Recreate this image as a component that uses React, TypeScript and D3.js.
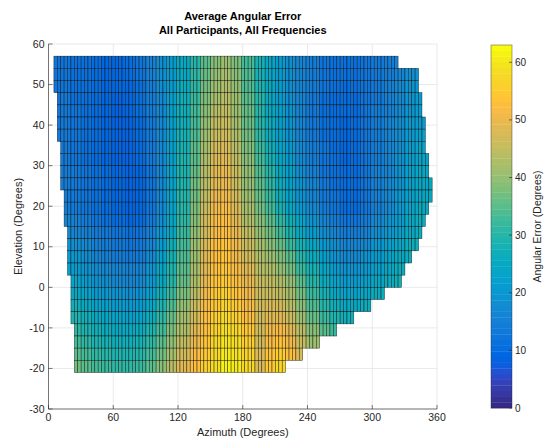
import * as d3 from 'd3';

const WIDTH = 548,
  HEIGHT = 442;
// axes box in px
const PLOT = { left: 48.5, right: 437, top: 44, bottom: 409 };
const CBAR = { left: 491, right: 512, top: 45, bottom: 408 };
const FONT = '"Liberation Sans", Arial, Helvetica, sans-serif';

const AZ_TICKS = [0, 60, 120, 180, 240, 300, 360];
const EL_TICKS = [-30, -20, -10, 0, 10, 20, 30, 40, 50, 60];
const CBAR_TICKS = [0, 10, 20, 30, 40, 50, 60];
const CBAR_MAX = 63;

// grid of the measurement bins
const AZ_START = 5;
const AZ_STEP = 360 / 114;
const EL_TOP = 57;
const EL_STEP = 3;

// first / last (exclusive) azimuth bin of each elevation row, top row first
const rowStartCol = [0, 0, 0, 1, 1, 1, 1, 2, 2, 2, 2, 3, 3, 3, 4, 4, 4, 4, 5, 5, 5, 5, 6, 6, 6, 6];
const rowEndCol = [101, 107, 107, 108, 108, 109, 109, 109, 110, 110, 111, 111, 110, 109, 108, 107, 105, 103, 102, 97, 93, 88, 83, 78, 73, 68];

// mean angular error per row, read in 10 degree azimuth blocks (0-10, 10-20, ...)
const errorByRow = [
  [12, 12, 11, 11, 10, 9, 9, 10, 12, 15, 18, 21, 25, 30, 35, 39, 41, 38, 33, 28, 24, 21, 18, 16, 14, 12, 11, 11, 11, 12, 13, 14, 16],
  [12, 12, 11, 11, 10, 9, 9, 10, 12, 15, 18, 21, 25, 31, 36, 40, 42, 39, 34, 28, 24, 21, 18, 16, 14, 12, 11, 11, 11, 12, 13, 14, 16, 18, 19],
  [12, 12, 11, 11, 10, 9, 9, 9, 11, 14, 18, 21, 26, 31, 37, 41, 43, 40, 34, 29, 25, 21, 18, 16, 14, 12, 11, 10, 11, 12, 13, 15, 17, 19, 20],
  [12, 13, 11, 11, 10, 9, 8, 9, 11, 14, 17, 22, 27, 32, 38, 42, 44, 41, 35, 30, 25, 21, 18, 16, 13, 11, 10, 10, 10, 12, 13, 15, 17, 19, 21],
  [13, 13, 12, 11, 10, 9, 8, 9, 11, 14, 17, 22, 27, 33, 39, 44, 45, 41, 36, 30, 25, 22, 19, 16, 13, 11, 10, 10, 10, 12, 14, 15, 17, 19, 21],
  [13, 13, 12, 11, 10, 9, 8, 8, 10, 13, 17, 22, 27, 33, 40, 45, 46, 42, 36, 30, 26, 22, 19, 16, 13, 11, 10, 9, 10, 12, 14, 16, 18, 20, 21],
  [13, 13, 12, 11, 10, 9, 8, 8, 10, 13, 17, 22, 28, 34, 41, 46, 47, 43, 37, 31, 26, 22, 19, 16, 13, 11, 10, 9, 10, 12, 14, 16, 18, 20, 22],
  [13, 13, 12, 11, 10, 9, 8, 8, 10, 13, 17, 22, 28, 35, 42, 47, 48, 44, 38, 32, 27, 23, 20, 17, 14, 12, 10, 9, 10, 12, 14, 16, 18, 21, 23],
  [14, 13, 12, 11, 10, 9, 8, 8, 10, 13, 17, 22, 29, 35, 43, 48, 49, 45, 39, 33, 28, 24, 21, 17, 14, 12, 11, 9, 10, 12, 14, 16, 19, 21, 23, 24],
  [14, 14, 13, 12, 11, 10, 9, 8, 9, 12, 17, 23, 29, 36, 44, 49, 50, 46, 40, 34, 30, 25, 22, 18, 15, 12, 11, 10, 10, 12, 15, 16, 19, 22, 24, 24],
  [14, 14, 13, 12, 11, 10, 9, 8, 9, 12, 17, 23, 29, 37, 44, 49, 50, 46, 40, 35, 31, 26, 22, 19, 16, 13, 11, 10, 10, 12, 15, 17, 19, 22, 24, 25],
  [15, 14, 13, 12, 11, 10, 9, 8, 9, 12, 17, 23, 30, 37, 45, 50, 51, 47, 41, 36, 32, 27, 23, 19, 16, 13, 12, 10, 10, 12, 15, 17, 20, 22, 24, 25],
  [15, 14, 13, 12, 11, 10, 9, 8, 9, 12, 17, 23, 30, 38, 46, 51, 52, 48, 42, 37, 33, 28, 24, 20, 17, 14, 12, 10, 10, 12, 15, 17, 20, 23, 25, 26],
  [17, 16, 15, 14, 12, 11, 10, 9, 10, 13, 18, 24, 31, 39, 47, 52, 53, 49, 43, 39, 35, 31, 27, 23, 19, 16, 14, 12, 12, 14, 17, 19, 21, 24, 26],
  [18, 17, 16, 15, 14, 13, 12, 11, 12, 15, 20, 25, 32, 40, 47, 52, 53, 50, 45, 40, 37, 33, 29, 25, 21, 18, 16, 14, 14, 15, 18, 20, 22, 25, 26],
  [20, 19, 18, 17, 15, 14, 13, 12, 13, 16, 21, 27, 33, 41, 48, 53, 54, 51, 46, 42, 39, 36, 32, 28, 24, 20, 18, 16, 16, 17, 20, 22, 24, 26, 27],
  [22, 21, 20, 18, 16, 15, 14, 13, 14, 17, 22, 28, 34, 41, 49, 53, 54, 51, 47, 43, 41, 38, 35, 30, 26, 22, 19, 17, 17, 19, 21, 23, 25, 26],
  [23, 22, 21, 19, 18, 17, 16, 15, 16, 19, 24, 29, 35, 42, 49, 53, 54, 52, 49, 44, 43, 40, 37, 32, 28, 24, 21, 19, 19, 20, 22, 24, 26],
  [25, 24, 23, 21, 19, 18, 17, 16, 17, 20, 25, 30, 36, 43, 50, 54, 55, 53, 50, 46, 45, 43, 40, 35, 30, 26, 23, 21, 21, 22, 24, 26, 27],
  [27, 26, 25, 23, 21, 20, 19, 18, 19, 22, 27, 32, 38, 44, 51, 55, 56, 54, 51, 46, 46, 45, 42, 37, 32, 28, 25, 23, 23, 24, 26, 28],
  [29, 28, 27, 25, 23, 22, 21, 20, 21, 24, 29, 34, 40, 46, 52, 55, 57, 55, 52, 47, 48, 47, 44, 39, 34, 30, 27, 25, 25, 26],
  [31, 30, 29, 27, 25, 24, 23, 22, 23, 26, 31, 36, 42, 47, 53, 56, 58, 56, 53, 47, 49, 49, 46, 41, 36, 32, 29, 27, 27],
  [33, 32, 31, 29, 27, 26, 25, 25, 26, 29, 33, 38, 43, 49, 53, 57, 59, 58, 55, 47, 51, 52, 49, 44, 39, 35, 32],
  [35, 34, 33, 31, 29, 28, 27, 27, 28, 31, 35, 40, 45, 50, 54, 58, 60, 59, 56, 47, 52, 54, 51, 46, 41, 37],
  [37, 36, 35, 33, 31, 30, 29, 29, 30, 33, 37, 42, 47, 52, 55, 58, 61, 60, 57, 48, 54, 56, 53, 48],
  [39, 38, 37, 35, 33, 32, 31, 31, 32, 35, 39, 44, 49, 53, 56, 59, 62, 61, 58, 48, 55, 58],
];

// MATLAB parula (R2017a+), 64 entries
const PARULA = [
  [0.2081, 0.1663, 0.5292], [0.2116, 0.1898, 0.5777], [0.2123, 0.2138, 0.627], [0.2081, 0.2386, 0.6771],
  [0.1959, 0.2645, 0.7279], [0.1707, 0.2919, 0.7792], [0.1253, 0.3242, 0.8303], [0.0591, 0.3598, 0.8683],
  [0.0117, 0.3875, 0.882], [0.006, 0.4086, 0.8828], [0.0165, 0.4266, 0.8786], [0.0329, 0.443, 0.872],
  [0.0498, 0.4586, 0.8641], [0.0629, 0.4737, 0.8554], [0.0723, 0.4887, 0.8467], [0.0779, 0.504, 0.8384],
  [0.0793, 0.52, 0.8312], [0.0749, 0.5375, 0.8263], [0.0641, 0.557, 0.824], [0.0488, 0.5772, 0.8228],
  [0.0343, 0.5966, 0.8199], [0.0265, 0.6137, 0.8135], [0.0239, 0.6287, 0.8038], [0.0231, 0.6418, 0.7913],
  [0.0228, 0.6535, 0.7768], [0.0267, 0.6642, 0.7607], [0.0384, 0.6743, 0.7436], [0.059, 0.6838, 0.7254],
  [0.0843, 0.6928, 0.7062], [0.1133, 0.7015, 0.6859], [0.1453, 0.7098, 0.6646], [0.1801, 0.7177, 0.6424],
  [0.2178, 0.725, 0.6193], [0.2586, 0.7317, 0.5954], [0.3022, 0.7376, 0.5712], [0.3482, 0.7424, 0.5473],
  [0.3953, 0.7459, 0.5244], [0.442, 0.7481, 0.5033], [0.4871, 0.7491, 0.484], [0.53, 0.7491, 0.4661],
  [0.5709, 0.7485, 0.4494], [0.6099, 0.7473, 0.4337], [0.6473, 0.7456, 0.4188], [0.6834, 0.7435, 0.4044],
  [0.7184, 0.7411, 0.3905], [0.7525, 0.7384, 0.3768], [0.7858, 0.7356, 0.3633], [0.8185, 0.7327, 0.3498],
  [0.8507, 0.7299, 0.336], [0.8824, 0.7274, 0.3217], [0.9139, 0.7258, 0.3063], [0.945, 0.7261, 0.2886],
  [0.9739, 0.7314, 0.2666], [0.9938, 0.7455, 0.2403], [0.999, 0.7653, 0.2164], [0.9955, 0.7861, 0.1967],
  [0.988, 0.8066, 0.1794], [0.9789, 0.8271, 0.1633], [0.9697, 0.8481, 0.1475], [0.9626, 0.8705, 0.1309],
  [0.9589, 0.8949, 0.1132], [0.9598, 0.9218, 0.0948], [0.9661, 0.9514, 0.0755], [0.9763, 0.9831, 0.0538],
].map(([r, g, b]) => d3.rgb(r * 255, g * 255, b * 255).formatHex());

export default function App() {
  const xScale = d3.scaleLinear().domain([0, 360]).range([PLOT.left, PLOT.right]);
  const yScale = d3.scaleLinear().domain([-30, 60]).range([PLOT.bottom, PLOT.top]);
  const cScale = d3.scaleLinear().domain([0, CBAR_MAX]).range([CBAR.bottom, CBAR.top]);
  const colorScale = d3.scaleQuantize<string>().domain([0, CBAR_MAX]).range(PARULA);

  const cells: JSX.Element[] = [];
  errorByRow.forEach((vals, r) => {
    const elTop = EL_TOP - r * EL_STEP;
    const y0 = yScale(elTop);
    const y1 = yScale(elTop - EL_STEP);
    for (let c = rowStartCol[r]; c < rowEndCol[r]; c++) {
      const a0 = AZ_START + c * AZ_STEP;
      const a1 = a0 + AZ_STEP;
      const block = Math.floor((a0 + a1) / 2 / 10);
      const v = vals[Math.min(block, vals.length - 1)];
      const x0 = xScale(a0);
      cells.push(
        <rect
          key={`${r}-${c}`}
          x={x0}
          y={y0}
          width={xScale(a1) - x0}
          height={y1 - y0}
          fill={colorScale(v)}
          stroke="#000"
          strokeOpacity={0.7}
          strokeWidth={0.55}
        />
      );
    }
  });

  const bandH = (CBAR.bottom - CBAR.top) / PARULA.length;
  const textColor = '#262626';

  return (
    <svg
      width={WIDTH}
      height={HEIGHT}
      style={{ position: 'absolute', left: 0, top: 0, background: '#fff' }}
      fontFamily={FONT}
    >
      <rect width={WIDTH} height={HEIGHT} fill="#fff" />

      {/* grid */}
      {AZ_TICKS.map(t => (
        <line key={'gx' + t} x1={xScale(t)} x2={xScale(t)} y1={PLOT.top} y2={PLOT.bottom} stroke="#e3e3e3" strokeWidth={0.8} />
      ))}
      {EL_TICKS.map(t => (
        <line key={'gy' + t} x1={PLOT.left} x2={PLOT.right} y1={yScale(t)} y2={yScale(t)} stroke="#e3e3e3" strokeWidth={0.8} />
      ))}

      {cells}

      {/* axes */}
      <line x1={PLOT.left} x2={PLOT.left} y1={PLOT.top} y2={PLOT.bottom} stroke={textColor} strokeOpacity={0.6} strokeWidth={1} />
      <line x1={PLOT.left} x2={PLOT.right} y1={PLOT.bottom} y2={PLOT.bottom} stroke={textColor} strokeOpacity={0.6} strokeWidth={1} />
      {AZ_TICKS.map(t => (
        <g key={'tx' + t}>
          <line x1={xScale(t)} x2={xScale(t)} y1={PLOT.bottom} y2={PLOT.bottom - 4} stroke={textColor} strokeOpacity={0.6} />
          <text x={xScale(t)} y={421} textAnchor="middle" fontSize={10.5} fill={textColor}>
            {t}
          </text>
        </g>
      ))}
      {EL_TICKS.map(t => (
        <g key={'ty' + t}>
          <line x1={PLOT.left} x2={PLOT.left + 4} y1={yScale(t)} y2={yScale(t)} stroke={textColor} strokeOpacity={0.6} />
          <text x={PLOT.left - 4} y={yScale(t)} dy="0.35em" textAnchor="end" fontSize={10.5} fill={textColor}>
            {t}
          </text>
        </g>
      ))}

      <text x={(PLOT.left + PLOT.right) / 2} y={436} textAnchor="middle" fontSize={11} fill={textColor}>
        Azimuth (Degrees)
      </text>
      <text
        transform={`translate(22,${(PLOT.top + PLOT.bottom) / 2}) rotate(-90)`}
        textAnchor="middle"
        fontSize={11}
        fill={textColor}
      >
        Elevation (Degrees)
      </text>

      {/* title */}
      <text x={(PLOT.left + PLOT.right) / 2} y={20} textAnchor="middle" fontSize={11} fontWeight="bold" fill="#000">
        Average Angular Error
      </text>
      <text x={(PLOT.left + PLOT.right) / 2} y={34} textAnchor="middle" fontSize={11} fontWeight="bold" fill="#000">
        All Participants, All Frequencies
      </text>

      {/* colorbar */}
      {PARULA.map((col, i) => (
        <rect
          key={'cb' + i}
          x={CBAR.left}
          y={CBAR.bottom - (i + 1) * bandH}
          width={CBAR.right - CBAR.left}
          height={bandH + 0.3}
          fill={col}
        />
      ))}
      <rect
        x={CBAR.left}
        y={CBAR.top}
        width={CBAR.right - CBAR.left}
        height={CBAR.bottom - CBAR.top}
        fill="none"
        stroke={textColor}
        strokeOpacity={0.5}
        strokeWidth={0.8}
      />
      {CBAR_TICKS.map(t => (
        <g key={'ct' + t}>
          <line x1={CBAR.right} x2={CBAR.right - 3} y1={cScale(t)} y2={cScale(t)} stroke={textColor} strokeOpacity={0.6} />
          <text x={CBAR.right + 3} y={cScale(t)} dy="0.35em" fontSize={10} fill={textColor}>
            {t}
          </text>
        </g>
      ))}
      <text
        transform={`translate(541,${(CBAR.top + CBAR.bottom) / 2}) rotate(-90)`}
        textAnchor="middle"
        fontSize={10.5}
        fill={textColor}
      >
        Angular Error (Degrees)
      </text>
    </svg>
  );
}
